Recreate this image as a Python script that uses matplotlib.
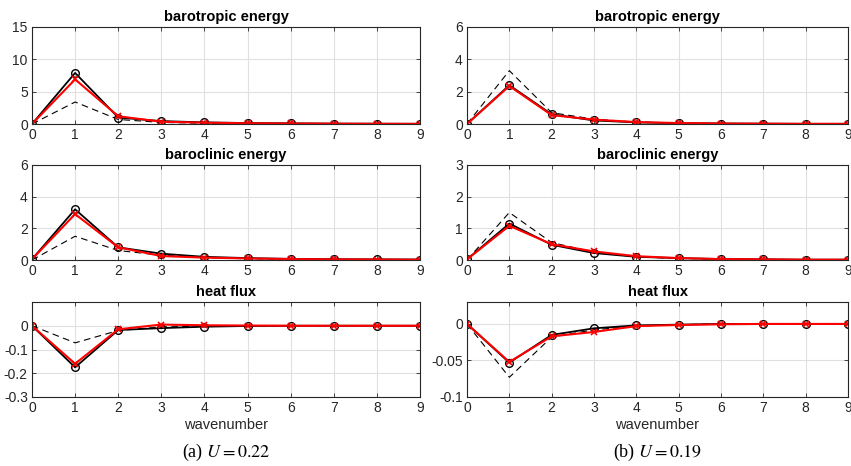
import numpy as np
import matplotlib
matplotlib.use("Agg")
import matplotlib.pyplot as plt

plt.rcParams['font.family'] = ['Liberation Sans', 'DejaVu Sans']
plt.rcParams['mathtext.fontset'] = 'stix'

k = np.arange(10)

# (a) U = 0.22
baroT_a_black = [0, 7.9, 1.0, 0.45, 0.25, 0.15, 0.1, 0.06, 0.04, 0.03]
baroT_a_red = [0, 6.9, 1.2, 0.35, 0.2, 0.12, 0.08, 0.05, 0.03, 0.02]
baroT_a_dash = [0, 3.4, 0.7, 0.25, 0.12, 0.07, 0.04, 0.02, 0.01, 0.01]
baroC_a_black = [0.05, 3.2, 0.8, 0.4, 0.2, 0.12, 0.07, 0.05, 0.04, 0.03]
baroC_a_red = [0.05, 2.9, 0.8, 0.25, 0.15, 0.1, 0.06, 0.04, 0.03, 0.02]
baroC_a_dash = [0, 1.5, 0.6, 0.3, 0.15, 0.08, 0.05, 0.03, 0.02, 0.01]
heat_a_black = [0, -0.175, -0.018, -0.01, -0.004, -0.001, 0, 0, 0, 0]
heat_a_red = [0, -0.16, -0.015, 0.005, 0.002, 0.001, 0, 0, 0, 0]
heat_a_dash = [0, -0.072, -0.02, -0.005, -0.002, -0.001, 0, 0, 0, 0]

# (b) U = 0.19
baroT_b_black = [0, 2.4, 0.6, 0.22, 0.1, 0.05, 0.03, 0.02, 0.01, 0.01]
baroT_b_red = [0, 2.35, 0.55, 0.27, 0.12, 0.06, 0.03, 0.02, 0.01, 0.01]
baroT_b_dash = [0, 3.3, 0.7, 0.3, 0.12, 0.06, 0.03, 0.02, 0.01, 0.01]
baroC_b_black = [0.02, 1.15, 0.48, 0.22, 0.1, 0.06, 0.03, 0.02, 0.01, 0.01]
baroC_b_red = [0.02, 1.08, 0.5, 0.27, 0.12, 0.06, 0.03, 0.02, 0.01, 0.01]
baroC_b_dash = [0, 1.5, 0.55, 0.25, 0.1, 0.05, 0.03, 0.02, 0.01, 0.01]
heat_b_black = [0, -0.053, -0.015, -0.006, -0.002, -0.001, 0, 0, 0, 0]
heat_b_red = [0, -0.052, -0.017, -0.011, -0.003, -0.0015, -0.0005, 0, 0, 0]
heat_b_dash = [0, -0.073, -0.018, -0.008, -0.003, -0.001, 0, 0, 0, 0]

titles = ["barotropic energy", "baroclinic energy", "heat flux"]
panels = [
    [(baroT_a_black, baroT_a_red, baroT_a_dash, (0, 15), [0, 5, 10, 15], ["0", "5", "10", "15"]),
     (baroC_a_black, baroC_a_red, baroC_a_dash, (0, 6), [0, 2, 4, 6], ["0", "2", "4", "6"]),
     (heat_a_black, heat_a_red, heat_a_dash, (-0.3, 0.1), [-0.3, -0.2, -0.1, 0], ["-0.3", "-0.2", "-0.1", "0"])],
    [(baroT_b_black, baroT_b_red, baroT_b_dash, (0, 6), [0, 2, 4, 6], ["0", "2", "4", "6"]),
     (baroC_b_black, baroC_b_red, baroC_b_dash, (0, 3), [0, 1, 2, 3], ["0", "1", "2", "3"]),
     (heat_b_black, heat_b_red, heat_b_dash, (-0.1, 0.03), [-0.1, -0.05, 0], ["-0.1", "-0.05", "0"])],
]
captions = [r"(a) $U = 0.22$", r"(b) $U = 0.19$"]

fig = plt.figure(figsize=(8.51, 4.66), dpi=100)
W, H = 851, 466
cols = [(32, 420), (467, 848)]
rows = [(27, 124), (165, 260), (302, 397)]
dark = "#262626"

for c, (x0, x1) in enumerate(cols):
    for r, (y0, y1) in enumerate(rows):
        ax = fig.add_axes([x0 / W, 1 - y1 / H, (x1 - x0) / W, (y1 - y0) / H])
        black, red, dash, ylim, yt, ytl = panels[c][r]
        ax.plot(k, dash, color="black", linestyle=(0, (6, 4)), linewidth=0.8)
        ax.plot(k, black, color="black", linewidth=1.3, marker="o", markersize=5.5,
                markerfacecolor="none", markeredgewidth=1.0)
        ax.plot(k, red, color="red", linewidth=1.5, marker="x", markersize=4,
                markeredgewidth=1.2)
        ax.set_xlim(0, 9)
        ax.set_ylim(*ylim)
        ax.set_xticks(k)
        ax.set_yticks(yt)
        ax.set_yticklabels(ytl)
        ax.grid(True, color="#e0e0e0", linewidth=0.8)
        ax.set_axisbelow(True)
        ax.tick_params(direction="in", top=True, right=True, labelsize=10,
                       colors=dark, length=3, width=0.6, pad=3)
        for s in ax.spines.values():
            s.set_color(dark)
            s.set_linewidth(0.8)
        ax.set_title(titles[r], fontsize=10.5, fontweight="bold", pad=4)
        if r == 2:
            ax.set_xlabel("wavenumber", fontsize=10.5, color=dark, labelpad=2)
    fig.text((x0 + x1) / 2 / W, 1 - 452 / H, captions[c], ha="center", va="center",
             fontsize=13, family=["Liberation Serif", "DejaVu Serif"])

fig.savefig("out.png", dpi=100)
